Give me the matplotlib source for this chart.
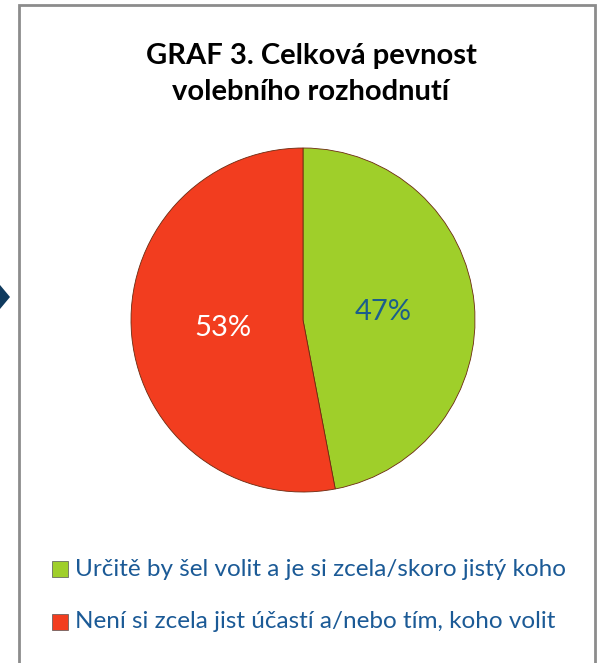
import numpy as np
import matplotlib.pyplot as plt
from matplotlib.patches import Rectangle, Polygon

# data
labels = ["Určitě by šel volit a je si zcela/skoro jistý koho",
          "Není si zcela jist účastí a/nebo tím, koho volit"]
values = [47, 53]
colors = ["#9fcf2a", "#f23d1f"]
pct_colors = ["#1b5e8c", "white"]
title = "GRAF 3. Celková pevnost\nvolebního rozhodnutí"

W, H = 599, 663
fig = plt.figure(figsize=(W / 100, H / 100), dpi=100)
fig.patch.set_facecolor("white")

# ramecek kolem grafu
fig.patches.append(Rectangle((19 / W, -0.05), (595 - 19) / W, (H - 5) / H + 0.05,
                             transform=fig.transFigure, fill=False,
                             edgecolor="#8c8c8c", linewidth=2))
# tmava sipka vlevo
fig.patches.append(Polygon([(0, 1 - 285 / H), (10 / W, 1 - 297 / H), (0, 1 - 309 / H)],
                           closed=True, transform=fig.transFigure,
                           facecolor="#0f3a5e", edgecolor="none"))

fig.text(311 / W, 1 - 74 / H, title, ha="center", va="center",
         fontsize=21, fontweight="bold", family="Lato", linespacing=1.45)

cx, cy, r = 303, 320, 172
ax = fig.add_axes([(cx - r) / W, (H - cy - r) / H, 2 * r / W, 2 * r / H])
wedges, texts = ax.pie(values, colors=colors, startangle=90, counterclock=False,
                       radius=1, wedgeprops=dict(edgecolor="#6b2a10", linewidth=0.6))
ax.set_xlim(-1, 1)
ax.set_ylim(-1, 1)
ax.set_aspect("equal")
ax.axis("off")

start = 90
for v, c in zip(values, pct_colors):
    mid = np.deg2rad(start - v * 3.6 / 2)
    ax.text(0.47 * np.cos(mid), 0.47 * np.sin(mid), f"{v}%", ha="center",
            va="center", fontsize=21, color=c, family="Lato")
    start -= v * 3.6

# legenda
for i, (lab, col) in enumerate(zip(labels, colors)):
    y = 569 + i * 53
    fig.patches.append(Rectangle((52 / W, 1 - (y + 8) / H), 16 / W, 16 / H,
                                 transform=fig.transFigure, facecolor=col,
                                 edgecolor="#555555", linewidth=0.5))
    fig.text(75 / W, 1 - y / H, lab, ha="left", va="center", fontsize=17.5,
             color="#1b5a96", family="Lato")

fig.savefig("out.png", dpi=100)
